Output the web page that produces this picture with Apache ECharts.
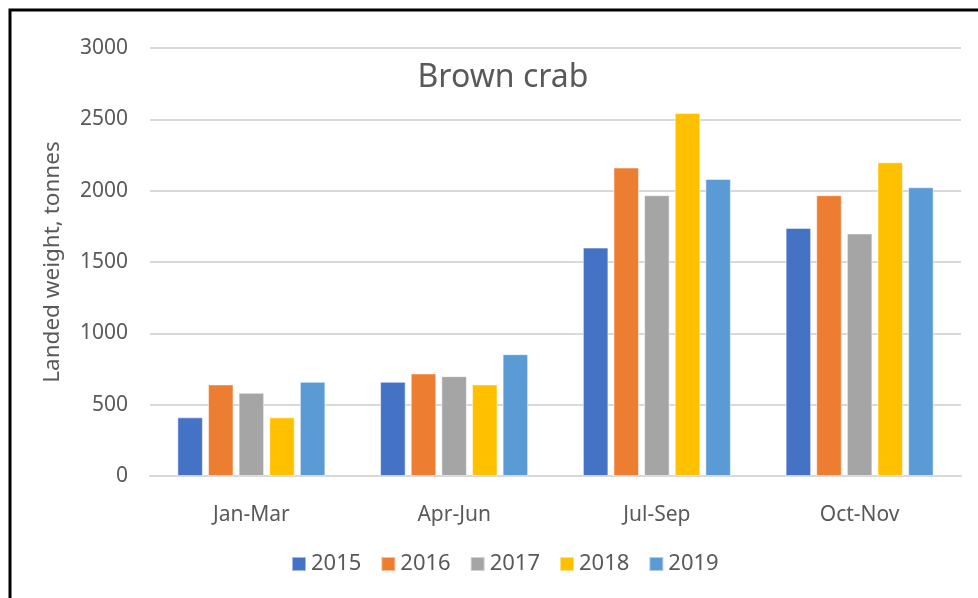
<!DOCTYPE html>
<html>
<head>
<meta charset="utf-8">
<script src="https://cdn.jsdelivr.net/npm/echarts@6/dist/echarts.min.js"></script>
<style>html,body{margin:0;padding:0;background:#fff}#c{width:978px;height:598px}</style>
</head>
<body>
<div id="c"></div>
<script>
const categories = ['Jan-Mar', 'Apr-Jun', 'Jul-Sep', 'Oct-Nov'];
const years = ['2015', '2016', '2017', '2018', '2019'];
const v2015 = [411, 660, 1601, 1739];
const v2016 = [642, 719, 2162, 1968];
const v2017 = [583, 700, 1968, 1700];
const v2018 = [411, 642, 2544, 2199];
const v2019 = [660, 854, 2082, 2024];
const yTicks = [0, 500, 1000, 1500, 2000, 2500, 3000];

const seriesValues = [v2015, v2016, v2017, v2018, v2019];
const colors = ['#4472C4', '#ED7D31', '#A5A5A5', '#FFC000', '#5B9BD5'];
const font = 'Noto Sans';
const txt = '#595959';

const chart = echarts.init(document.getElementById('c'));
chart.setOption({
  animation: false,
  color: colors,
  title: {
    text: 'Brown crab',
    left: 503,
    top: 62,
    padding: 0,
    textAlign: 'center',
    textStyle: { fontFamily: font, fontSize: 32, fontWeight: 'normal', color: txt }
  },
  grid: { left: 150, right: 17, top: 48, bottom: 122 },
  legend: {
    data: years,
    left: 291,
    top: 553,
    padding: 0,
    itemWidth: 14,
    itemHeight: 14,
    itemGap: 19,
    icon: 'rect',
    textStyle: { fontFamily: font, fontSize: 22, color: txt }
  },
  xAxis: {
    type: 'category',
    data: categories,
    axisLine: { show: true, lineStyle: { color: '#D9D9D9', width: 2 } },
    axisTick: { show: false },
    axisLabel: { fontFamily: font, fontSize: 21, color: txt, margin: 29 }
  },
  yAxis: {
    type: 'value',
    min: yTicks[0],
    max: yTicks[yTicks.length - 1],
    interval: yTicks[1] - yTicks[0],
    name: 'Landed weight, tonnes',
    nameLocation: 'middle',
    nameGap: 86,
    nameTextStyle: { fontFamily: font, fontSize: 22.5, color: txt },
    axisLine: { show: false },
    axisTick: { show: false },
    axisLabel: { fontFamily: font, fontSize: 21, color: txt, margin: 22, formatter: v => String(v) },
    splitLine: { lineStyle: { color: '#D9D9D9', width: 2 } }
  },
  series: years.map((y, i) => ({
    name: y,
    type: 'bar',
    data: seriesValues[i],
    barGap: '20%',
    barCategoryGap: '27%',
    itemStyle: { borderColor: 'rgba(255,255,255,0.5)', borderWidth: 1 }
  })),
  graphic: [{
    type: 'rect',
    shape: { x: 10, y: 10, width: 1100, height: 800 },
    style: { fill: 'none', stroke: '#000', lineWidth: 3 },
    z: 100
  }]
});
</script>
</body>
</html>
